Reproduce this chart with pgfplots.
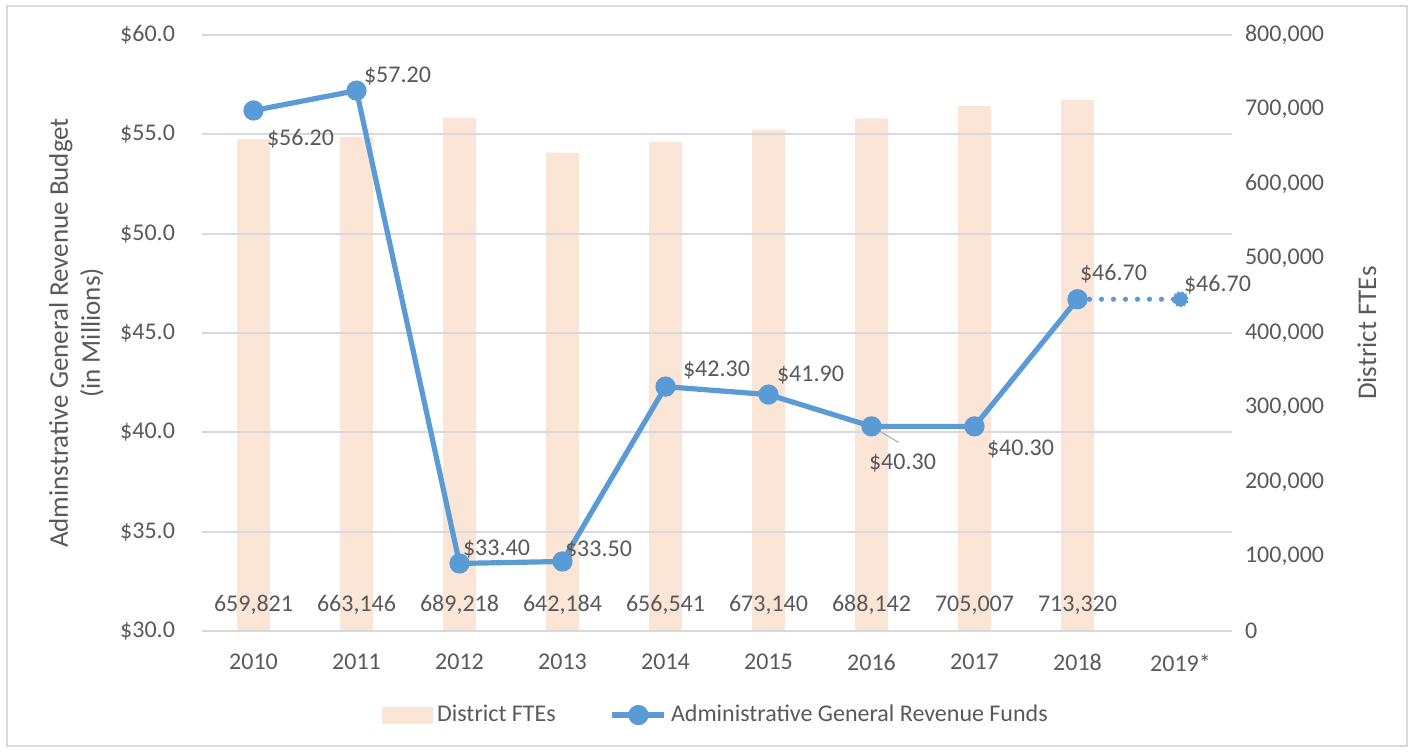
\documentclass[border=0pt]{standalone}
\usepackage{fontspec}
\setmainfont{Carlito}
\usepackage{pgfplots}
\pgfplotsset{compat=1.18}
\definecolor{barc}{HTML}{FBE5D6}
\definecolor{linec}{HTML}{5B9BD5}
\definecolor{txt}{HTML}{595959}
\definecolor{gridc}{HTML}{D9D9D9}
\pgfplotsset{
  common/.style={
    at={(101pt,60pt)}, anchor=south west, scale only axis,
    width=515pt, height=298pt, xmin=-0.5, xmax=9.5,
    /pgf/number format/assume math mode=true,
    tick label style={text=txt, font=\fontsize{12}{14.4}\selectfont},
    label style={text=txt, font=\fontsize{13.5}{16}\selectfont},
    major tick length=0pt,
    clip=false,
  }
}
\begin{document}
\begin{tikzpicture}[font=\fontsize{12}{14.4}\selectfont]
\useasboundingbox (0,0) rectangle (707pt,375.5pt);
\draw[gridc, line width=0.75pt] (3.5pt,2.5pt) rectangle (703.5pt,372.5pt);
% ---- bars: District FTEs (right axis)
\begin{axis}[common,
  ymin=0, ymax=800000,
  hide x axis,
  axis y line*=right,
  y axis line style={draw=none},
  ytick={0,100000,...,800000},
  scaled y ticks=false,
  yticklabel style={/pgf/number format/.cd, fixed, 1000 sep={,}, /tikz/.cd, anchor=west, xshift=3pt},
  ylabel={District FTEs},
  ylabel style={at={(axis description cs:1.131,0.5)}, anchor=center, rotate=0},
]
\addplot[ybar, bar width=16.5pt, fill=barc, draw=none] coordinates {
 (0,659821) (1,663146) (2,689218) (3,642184) (4,656541)
 (5,673140) (6,688142) (7,705007) (8,713320)};
\node[text=txt] at (axis cs:0,0) [yshift=13pt] {659,821};
\node[text=txt] at (axis cs:1,0) [yshift=13pt] {663,146};
\node[text=txt] at (axis cs:2,0) [yshift=13pt] {689,218};
\node[text=txt] at (axis cs:3,0) [yshift=13pt] {642,184};
\node[text=txt] at (axis cs:4,0) [yshift=13pt] {656,541};
\node[text=txt] at (axis cs:5,0) [yshift=13pt] {673,140};
\node[text=txt] at (axis cs:6,0) [yshift=13pt] {688,142};
\node[text=txt] at (axis cs:7,0) [yshift=13pt] {705,007};
\node[text=txt] at (axis cs:8,0) [yshift=13pt] {713,320};
\end{axis}
% ---- line: revenue (left axis)
\begin{axis}[common,
  ymin=30, ymax=60,
  axis x line*=bottom, axis y line*=left,
  x axis line style={gridc, line width=1pt},
  y axis line style={draw=none},
  ytick={30,35,...,60},
  ymajorgrids, grid style={gridc, line width=1pt},
  yticklabel={\$\pgfmathprintnumber[fixed,fixed zerofill,precision=1]{\tick}},
  yticklabel style={xshift=-10pt},
  xtick={0,...,9},
  xticklabels={2010,2011,2012,2013,2014,2015,2016,2017,2018,2019*},
  xticklabel style={yshift=-8pt},
  ylabel={Adminstrative General Revenue Budget\\(in Millions)},
  ylabel style={align=center, at={(axis description cs:-0.122,0.5)}, anchor=center},
  legend style={at={(axis description cs:0.5,-0.141)}, anchor=center, draw=none,
    fill=none, legend columns=2, text=txt, font=\fontsize{12}{14.4}\selectfont,
    /tikz/every even column/.append style={column sep=25pt}},
]
\addlegendimage{legend image code/.code={\fill[barc] (0pt,-4pt) rectangle (25pt,4pt);}}
\addlegendentry{District FTEs}
\addplot[linec, line width=2.6pt, mark=*, mark size=3.75pt,
  legend image code/.code={\draw[linec, line width=2.6pt] (0pt,0pt) -- (26pt,0pt);
  \fill[linec] (13pt,0pt) circle (3.75pt);}]
  coordinates {(0,56.2) (1,57.2) (2,33.4) (3,33.5) (4,42.3) (5,41.9) (6,40.3) (7,40.3) (8,46.7)};
\addlegendentry{Administrative General Revenue Funds}
\addplot[linec, line width=2.6pt, line cap=round, dash pattern=on 0pt off 6pt, forget plot]
  coordinates {(8,46.7) (9,46.7)};
\addplot[only marks, mark=*, mark size=3.5pt, mark options={fill=linec, draw=linec, line width=1pt, dash pattern=on 1pt off 1pt}, forget plot]
  coordinates {(9,46.7)};
\draw[gray!60, line width=0.6pt] (axis cs:6,40.3) -- ++(13.5pt,-8pt);
\node[text=txt] at (axis cs:0,56.2) [xshift=23.5pt, yshift=-14pt] {\$56.20};
\node[text=txt] at (axis cs:1,57.2) [xshift=20.5pt, yshift=7.5pt] {\$57.20};
\node[text=txt] at (axis cs:2,33.4) [xshift=18.5pt, yshift=7pt] {\$33.40};
\node[text=txt] at (axis cs:3,33.5) [xshift=18pt, yshift=5.5pt] {\$33.50};
\node[text=txt] at (axis cs:4,42.3) [xshift=25.5pt, yshift=8.5pt] {\$42.30};
\node[text=txt] at (axis cs:5,41.9) [xshift=21pt, yshift=10pt] {\$41.90};
\node[text=txt] at (axis cs:6,40.3) [xshift=15.5pt, yshift=-18.5pt] {\$40.30};
\node[text=txt] at (axis cs:7,40.3) [xshift=23pt, yshift=-11.5pt] {\$40.30};
\node[text=txt] at (axis cs:8,46.7) [xshift=18pt, yshift=12.5pt] {\$46.70};
\node[text=txt] at (axis cs:9,46.7) [xshift=18.5pt, yshift=7pt] {\$46.70};
\end{axis}
\end{tikzpicture}
\end{document}
